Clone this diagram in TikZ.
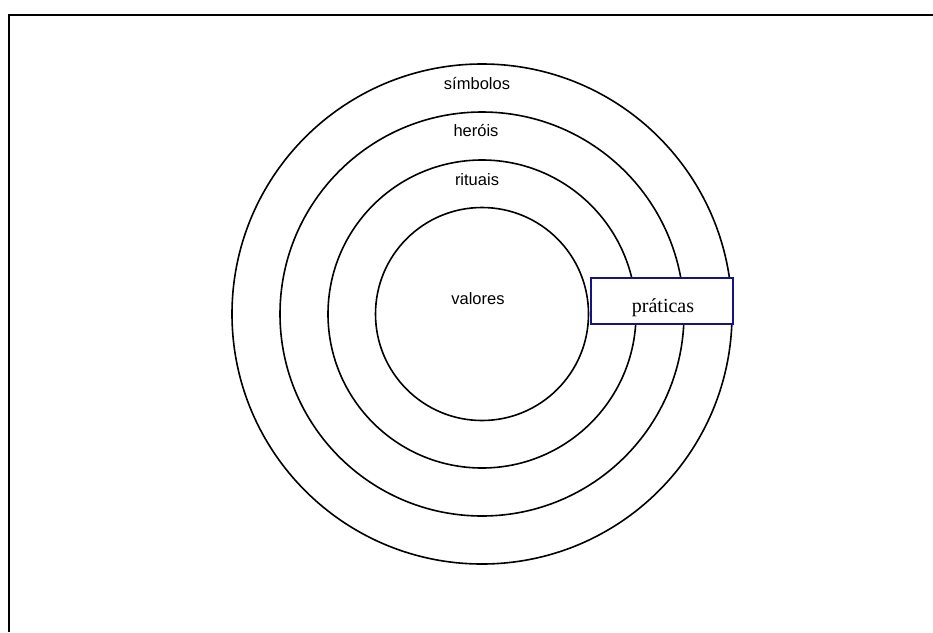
\documentclass[tikz,border=0pt]{standalone}
\usepackage{fontspec}
\setmainfont{Liberation Serif}
\newfontfamily\arialfont{Liberation Sans}
\definecolor{boxblue}{RGB}{20,20,130}
\begin{document}
\begin{tikzpicture}[x=1pt,y=-1pt,
  ring/.style={draw=black,line width=1.6pt,circle,inner sep=0pt},
  ringlabel/.style={font=\arialfont\fontsize{16.5}{18}\selectfont,inner sep=0pt},
  tagbox/.style={draw=boxblue,line width=1.6pt,fill=white,minimum width=142pt,minimum height=46pt,inner sep=0pt},
  tagtext/.style={font=\fontsize{20}{22}\selectfont,inner sep=0pt}]
\useasboundingbox (0,0) rectangle (933,632);
% open frame around the figure
\draw[line width=2pt] (9,632) -- (9,15) -- (933,15);
% concentric layers
\node[ring,minimum size=500pt] (simbolos) at (482,314) {};
\node[ring,minimum size=404pt] (herois) at (482,314) {};
\node[ring,minimum size=308pt] (rituais) at (482,314) {};
\node[ring,minimum size=213pt] (valores) at (482,314) {};
% layer names
\node[ringlabel] (lsimbolos) at (477,84) {símbolos};
\node[ringlabel] (lherois) at (476,131) {heróis};
\node[ringlabel] (lrituais) at (477,180) {rituais};
\node[ringlabel] (lvalores) at (478,299) {valores};
% practices box across the outer layers
\node[tagbox] (praticas) at (662,301) {};
\node[tagtext] (lpraticas) at (663,308) {práticas};
\end{tikzpicture}
\end{document}
